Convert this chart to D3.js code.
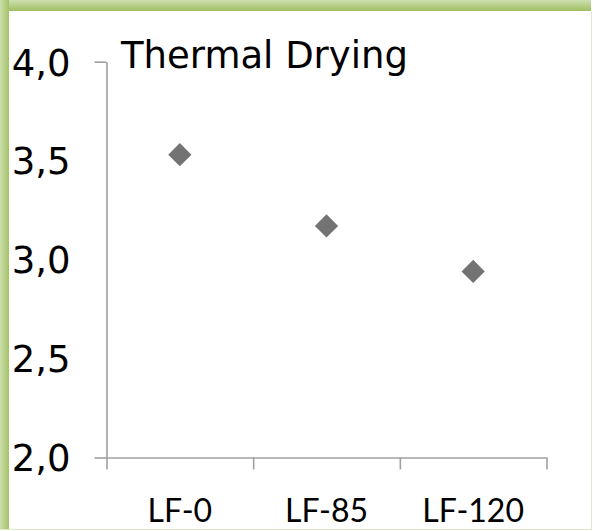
<!DOCTYPE html>
<html>
<head>
<meta charset="utf-8">
<script src="https://cdn.jsdelivr.net/npm/d3@7"></script>
<style>
  html, body { margin: 0; padding: 0; background: #fff; }
  svg { display: block; }
</style>
</head>
<body>
<svg id="chart" width="593" height="531"></svg>
<script>
const categories = ["LF-0", "LF-85", "LF-120"];
const values = [3.53, 3.17, 2.94];
const yTicks = [2.0, 2.5, 3.0, 3.5, 4.0];
const yTickMarks = [2.0, 4.0];
const title = "Thermal Drying";

const W = 593, H = 531;
const svg = d3.select("#chart");

// frame (green glow border)
const defs = svg.append("defs");
const gTop = defs.append("linearGradient").attr("id", "gTop").attr("x1", 0).attr("y1", 0).attr("x2", 0).attr("y2", 1);
gTop.append("stop").attr("offset", "0%").attr("stop-color", "#cddfb0");
gTop.append("stop").attr("offset", "100%").attr("stop-color", "#9fbf60");
const gLeft = defs.append("linearGradient").attr("id", "gLeft").attr("x1", 0).attr("y1", 0).attr("x2", 1).attr("y2", 0);
gLeft.append("stop").attr("offset", "0%").attr("stop-color", "#cbdeab");
gLeft.append("stop").attr("offset", "100%").attr("stop-color", "#a3c266");

svg.append("rect").attr("x", 0).attr("y", 0).attr("width", 591).attr("height", 11).attr("fill", "url(#gTop)");
svg.append("rect").attr("x", 0).attr("y", 0).attr("width", 9).attr("height", 529).attr("fill", "url(#gLeft)");
svg.append("line").attr("x1", 591.5).attr("x2", 591.5).attr("y1", 11).attr("y2", 529)
  .attr("stroke", "#dfe9c9").attr("stroke-width", 1);
svg.append("line").attr("x1", 0).attr("x2", 592).attr("y1", 529.5).attr("y2", 529.5)
  .attr("stroke", "#dfe9c9").attr("stroke-width", 1);

// scales
const x = d3.scaleBand().domain(categories).range([106.5, 546.5]).padding(0);
const xEdge = d3.scaleLinear().domain([0, categories.length]).range(x.range());
const y = d3.scaleLinear().domain([2, 4]).range([457.5, 61.7]);

const axisColor = "#a0a0a0";
const fmt = d => d.toFixed(1).replace(".", ",");

// Y axis labels + domain
const yAxis = svg.append("g").attr("transform", "translate(106.5,0)")
  .call(d3.axisLeft(y).tickValues(yTicks).tickSize(0).tickPadding(36).tickSizeOuter(0).tickFormat(fmt));
yAxis.select(".domain").attr("stroke", axisColor).attr("stroke-width", 1.6);
yAxis.selectAll("text").attr("font-family", "DejaVu Sans, Verdana, sans-serif")
  .attr("font-size", 37).attr("fill", "#000").attr("dy", "0.36em");

// Y tick marks (only ends)
const yTickG = svg.append("g").attr("transform", "translate(106.5,0)")
  .call(d3.axisLeft(y).tickValues(yTickMarks).tickSize(12).tickSizeOuter(0).tickFormat(""));
yTickG.select(".domain").remove();
yTickG.selectAll("line").attr("stroke", axisColor).attr("stroke-width", 1.6);

// X axis tick marks at category boundaries
const xTickG = svg.append("g").attr("transform", "translate(0,457.5)")
  .call(d3.axisBottom(xEdge).tickValues(d3.range(categories.length + 1)).tickSize(12).tickSizeOuter(0).tickFormat(""));
xTickG.select(".domain").attr("stroke", axisColor).attr("stroke-width", 1.6);
xTickG.selectAll("line").attr("stroke", axisColor).attr("stroke-width", 1.6);

// X axis labels
const xAxis = svg.append("g").attr("transform", "translate(0,457.5)")
  .call(d3.axisBottom(x).tickSize(0).tickSizeOuter(0));
xAxis.select(".domain").remove();
xAxis.selectAll("text").attr("y", 64).attr("dy", 0)
  .attr("font-family", "Lato, 'Open Sans', sans-serif").attr("font-size", 32).attr("fill", "#000");

// markers
const diamond = d3.symbol().type(d3.symbolSquare).size(270);
svg.append("g").selectAll("path").data(values).join("path")
  .attr("d", diamond)
  .attr("transform", (d, i) => `translate(${x(categories[i]) + x.bandwidth() / 2},${y(d)}) rotate(45)`)
  .attr("fill", "#737373");

// title
svg.append("text").attr("x", 121).attr("y", 68)
  .attr("font-family", "DejaVu Sans, Verdana, sans-serif").attr("font-size", 37).attr("fill", "#000")
  .text(title);
</script>
</body>
</html>
